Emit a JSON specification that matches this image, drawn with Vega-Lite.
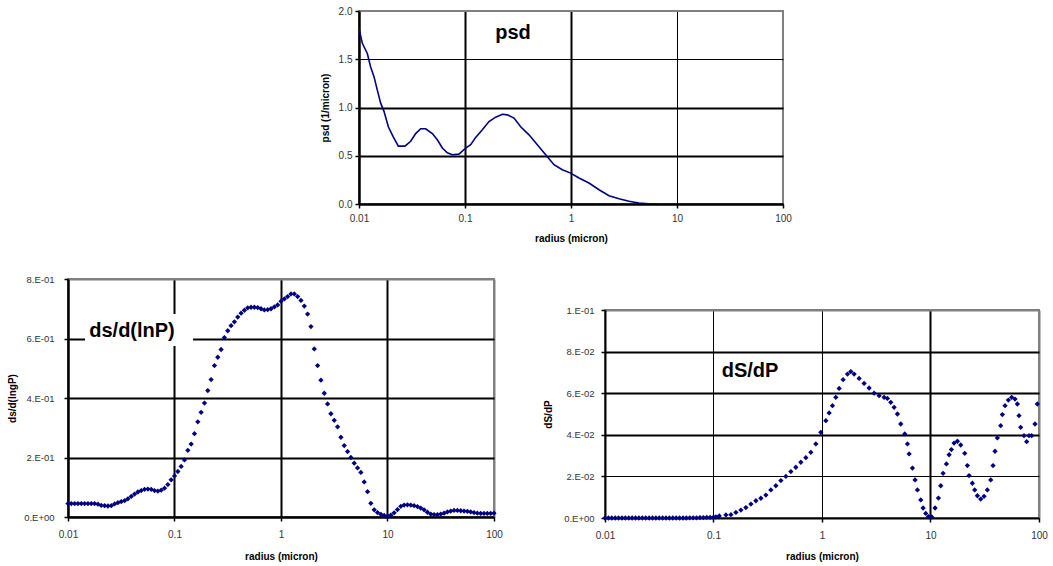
{
  "$schema": "https://vega.github.io/schema/vega-lite/v6.json",
  "padding": {"left": 6, "top": 5, "right": 3, "bottom": 2},
  "background": "white",
  "config": {
    "font": "Liberation Sans",
    "view": {"stroke": "#808080", "strokeWidth": 2},
    "axis": {
      "labelFont": "Liberation Sans", "labelFontSize": 10, "labelColor": "#333333",
      "titleFont": "Liberation Sans", "titleFontSize": 10, "titleFontWeight": "bold", "titleColor": "#000000",
      "domainColor": "#000000", "domainWidth": 2, "tickColor": "#000000", "tickWidth": 1.5, "tickSize": 4,
      "gridColor": "#000000", "gridOpacity": 1, "labelFlush": false, "labelOverlap": false
    }
  },
  "datasets": {
    "psd": [
      {"r":0.01,"v":1.82},{"r":0.01075,"v":1.665},{"r":0.01198,"v":1.56},{"r":0.01288,"v":1.42},{"r":0.01385,"v":1.32},{"r":0.01489,"v":1.18},{"r":0.01601,"v":1.045},{"r":0.01721,"v":0.96},{"r":0.01891,"v":0.8},{"r":0.02093,"v":0.7},{"r":0.0235,"v":0.6},{"r":0.02716,"v":0.6},{"r":0.03072,"v":0.65},{"r":0.03424,"v":0.73},{"r":0.03818,"v":0.78},{"r":0.04256,"v":0.78},{"r":0.04918,"v":0.73},{"r":0.05483,"v":0.665},{"r":0.06113,"v":0.58},{"r":0.0681,"v":0.53},{"r":0.07595,"v":0.51},{"r":0.08778,"v":0.517},{"r":0.1015,"v":0.58},{"r":0.1131,"v":0.614},{"r":0.1261,"v":0.69},{"r":0.1457,"v":0.77},{"r":0.1684,"v":0.855},{"r":0.1947,"v":0.9},{"r":0.225,"v":0.93},{"r":0.2508,"v":0.924},{"r":0.2899,"v":0.89},{"r":0.3351,"v":0.8},{"r":0.4016,"v":0.717},{"r":0.4813,"v":0.614},{"r":0.5768,"v":0.51},{"r":0.6912,"v":0.407},{"r":0.8284,"v":0.355},{"r":0.9928,"v":0.32},{"r":1.19,"v":0.27},{"r":1.478,"v":0.217},{"r":1.838,"v":0.148},{"r":2.283,"v":0.086},{"r":2.837,"v":0.055},{"r":3.526,"v":0.028},{"r":4.38,"v":0.01},{"r":5.442,"v":0.003},{"r":6.522,"v":0}
    ],
    "dlnp": [
      {"r":0.01,"v":0.045},{"r":0.010746,"v":0.045},{"r":0.011548,"v":0.045},{"r":0.012409,"v":0.045},{"r":0.013335,"v":0.045},{"r":0.01433,"v":0.045},{"r":0.015399,"v":0.045},{"r":0.016548,"v":0.045},{"r":0.017783,"v":0.045},{"r":0.01911,"v":0.043},{"r":0.020535,"v":0.039},{"r":0.022067,"v":0.038},{"r":0.023714,"v":0.037},{"r":0.025483,"v":0.038},{"r":0.027384,"v":0.044},{"r":0.029427,"v":0.048},{"r":0.031623,"v":0.052},{"r":0.033982,"v":0.055},{"r":0.036517,"v":0.061},{"r":0.039242,"v":0.069},{"r":0.04217,"v":0.077},{"r":0.045316,"v":0.084},{"r":0.048697,"v":0.089},{"r":0.05233,"v":0.093},{"r":0.056234,"v":0.094},{"r":0.06043,"v":0.093},{"r":0.064938,"v":0.089},{"r":0.069783,"v":0.087},{"r":0.074989,"v":0.09},{"r":0.080584,"v":0.097},{"r":0.086596,"v":0.109},{"r":0.093057,"v":0.125},
      {"r":0.1,"v":0.138},{"r":0.10746,"v":0.153},{"r":0.11548,"v":0.17},{"r":0.12409,"v":0.192},{"r":0.13335,"v":0.224},{"r":0.1433,"v":0.245},{"r":0.15399,"v":0.28},{"r":0.16548,"v":0.32},{"r":0.17783,"v":0.352},{"r":0.1911,"v":0.383},{"r":0.20535,"v":0.425},{"r":0.22067,"v":0.462},{"r":0.23714,"v":0.509},{"r":0.25483,"v":0.537},{"r":0.27384,"v":0.563},{"r":0.29427,"v":0.603},{"r":0.31623,"v":0.626},{"r":0.33982,"v":0.643},{"r":0.36517,"v":0.656},{"r":0.39242,"v":0.672},{"r":0.4217,"v":0.685},{"r":0.45316,"v":0.695},{"r":0.48697,"v":0.703},{"r":0.5233,"v":0.705},{"r":0.56234,"v":0.705},{"r":0.6043,"v":0.704},{"r":0.64938,"v":0.7},{"r":0.69783,"v":0.696},{"r":0.74989,"v":0.697},{"r":0.80584,"v":0.7},{"r":0.86596,"v":0.706},{"r":0.93057,"v":0.713},
      {"r":1,"v":0.725},{"r":1.0746,"v":0.733},{"r":1.1548,"v":0.741},{"r":1.2409,"v":0.75},{"r":1.3335,"v":0.75},{"r":1.433,"v":0.741},{"r":1.5399,"v":0.728},{"r":1.6548,"v":0.709},{"r":1.7783,"v":0.682},{"r":1.911,"v":0.64},{"r":2.0535,"v":0.565},{"r":2.2067,"v":0.509},{"r":2.3714,"v":0.46},{"r":2.5483,"v":0.416},{"r":2.7384,"v":0.38},{"r":2.9427,"v":0.347},{"r":3.1623,"v":0.325},{"r":3.3982,"v":0.303},{"r":3.6517,"v":0.268},{"r":3.9242,"v":0.24},{"r":4.217,"v":0.22},{"r":4.5316,"v":0.2},{"r":4.8697,"v":0.181},{"r":5.233,"v":0.165},{"r":5.6234,"v":0.15},{"r":6.043,"v":0.118},{"r":6.4938,"v":0.085},{"r":6.9783,"v":0.046},{"r":7.4989,"v":0.024},{"r":8.0584,"v":0.015},{"r":8.6596,"v":0.009},{"r":9.3057,"v":0.005},
      {"r":10,"v":0.003},{"r":10.746,"v":0.006},{"r":11.548,"v":0.014},{"r":12.409,"v":0.025},{"r":13.335,"v":0.036},{"r":14.33,"v":0.04},{"r":15.399,"v":0.041},{"r":16.548,"v":0.04},{"r":17.783,"v":0.038},{"r":19.11,"v":0.035},{"r":20.535,"v":0.03},{"r":22.067,"v":0.024},{"r":23.714,"v":0.016},{"r":25.483,"v":0.01},{"r":27.384,"v":0.008},{"r":29.427,"v":0.008},{"r":31.623,"v":0.01},{"r":33.982,"v":0.013},{"r":36.517,"v":0.017},{"r":39.242,"v":0.02},{"r":42.17,"v":0.022},{"r":45.316,"v":0.022},{"r":48.697,"v":0.021},{"r":52.33,"v":0.02},{"r":56.234,"v":0.019},{"r":60.43,"v":0.017},{"r":64.938,"v":0.015},{"r":69.783,"v":0.013},{"r":74.989,"v":0.012},{"r":80.584,"v":0.012},{"r":86.596,"v":0.012},{"r":93.057,"v":0.012},{"r":100,"v":0.013}
    ],
    "dsdp": [
      {"r":0.01,"v":0},{"r":0.010746,"v":0},{"r":0.011548,"v":0},{"r":0.012409,"v":0},{"r":0.013335,"v":0},{"r":0.01433,"v":0},{"r":0.015399,"v":0},{"r":0.016548,"v":0},{"r":0.017783,"v":0},{"r":0.01911,"v":0},{"r":0.020535,"v":0},{"r":0.022067,"v":0},{"r":0.023714,"v":0},{"r":0.025483,"v":0},{"r":0.027384,"v":0},{"r":0.029427,"v":0},{"r":0.031623,"v":0},{"r":0.033982,"v":0},{"r":0.036517,"v":0},{"r":0.039242,"v":0},{"r":0.04217,"v":0},{"r":0.045316,"v":0},{"r":0.048697,"v":0},{"r":0.05233,"v":0},{"r":0.056234,"v":0},{"r":0.06043,"v":0.0001},{"r":0.064938,"v":0.0001},{"r":0.069783,"v":0.0001},{"r":0.074989,"v":0.0002},{"r":0.080584,"v":0.0002},{"r":0.086596,"v":0.0003},{"r":0.093057,"v":0.0003},{"r":0.1,"v":0.0004},
      {"r":0.1052,"v":0.0005},{"r":0.113,"v":0.001},{"r":0.1301,"v":0.0015},{"r":0.1447,"v":0.0016},{"r":0.1609,"v":0.0027},{"r":0.1789,"v":0.0038},{"r":0.1989,"v":0.005},{"r":0.2211,"v":0.0067},{"r":0.2458,"v":0.0083},{"r":0.2733,"v":0.0095},{"r":0.3039,"v":0.011},{"r":0.3379,"v":0.0135},{"r":0.3757,"v":0.0155},{"r":0.4177,"v":0.018},{"r":0.4644,"v":0.02},{"r":0.5164,"v":0.0223},{"r":0.5741,"v":0.0244},{"r":0.6384,"v":0.0268},{"r":0.7097,"v":0.029},{"r":0.7891,"v":0.0316},{"r":0.8774,"v":0.0356},{"r":0.9756,"v":0.0412},{"r":1.085,"v":0.0468},{"r":1.164,"v":0.0505},{"r":1.249,"v":0.054},{"r":1.341,"v":0.058},{"r":1.439,"v":0.0623},{"r":1.566,"v":0.0665},{"r":1.717,"v":0.0692},{"r":1.843,"v":0.0704},{"r":1.978,"v":0.0692},{"r":2.199,"v":0.0671},{"r":2.445,"v":0.0647},{"r":2.719,"v":0.0625},{"r":3.023,"v":0.06},{"r":3.362,"v":0.0588},{"r":3.737,"v":0.058},{"r":4.011,"v":0.0575},{"r":4.305,"v":0.0556},{"r":4.62,"v":0.0532},{"r":4.958,"v":0.05},{"r":5.321,"v":0.0452},{"r":5.794,"v":0.0404},{"r":6.131,"v":0.0356},{"r":6.352,"v":0.0308},{"r":6.817,"v":0.024},{"r":7.211,"v":0.0183},{"r":7.578,"v":0.0135},{"r":8.133,"v":0.0087},{"r":8.545,"v":0.0048},{"r":9.041,"v":0.0022},{"r":9.568,"v":0.0006},{"r":10.27,"v":0.0005},{"r":11.02,"v":0.0048},{"r":11.83,"v":0.0096},{"r":12.43,"v":0.0155},{"r":13.06,"v":0.0215},{"r":14.02,"v":0.026},{"r":14.84,"v":0.0304},{"r":15.58,"v":0.0329},{"r":16.49,"v":0.036},{"r":17.7,"v":0.0369},{"r":18.99,"v":0.0351},{"r":20.68,"v":0.0311},{"r":21.88,"v":0.0252},{"r":22.67,"v":0.0204},{"r":24.32,"v":0.0167},{"r":25.56,"v":0.0135},{"r":27.05,"v":0.0107},{"r":29.03,"v":0.0091},{"r":31.15,"v":0.0104},{"r":33.43,"v":0.0135},{"r":35.88,"v":0.0183},{"r":37.7,"v":0.0252},{"r":39.34,"v":0.0321},{"r":41.33,"v":0.0385},{"r":44.36,"v":0.0444},{"r":45.96,"v":0.0497},{"r":48.63,"v":0.054},{"r":52.2,"v":0.0567},{"r":56.02,"v":0.058},{"r":60.12,"v":0.0572},{"r":63.17,"v":0.0548},{"r":65.44,"v":0.0492},{"r":67.8,"v":0.0436},{"r":72.77,"v":0.0396},{"r":76.99,"v":0.0367},{"r":80.9,"v":0.0396},{"r":85.63,"v":0.0396},{"r":91.89,"v":0.0452},{"r":96.54,"v":0.0548}
    ]
  },
  "spacing": 29,
  "vconcat": [
    {
      "spacing": 0,
      "hconcat": [
        {"width": 251, "height": 193, "view": {"stroke": null}, "data": {"values": [{}]}, "mark": {"type": "point", "opacity": 0}, "encoding": {}},
        {
          "width": 424, "height": 193,
          "layer": [
            {
              "data": {"name": "psd"},
              "mark": {"type": "line", "color": "#000080", "strokeWidth": 1.6, "clip": true},
              "encoding": {
                "x": {"field": "r", "type": "quantitative", "scale": {"type": "log", "domain": [0.01, 100], "nice": false},
                  "axis": {"title": "radius (micron)", "values": [0.01, 0.1, 1, 10, 100], "format": "~g", "labelPadding": 5, "titlePadding": 10,
                    "gridColor": {"condition": {"test": "datum.value > 50", "value": "#808080"}, "value": "#000000"},
                    "gridWidth": {"condition": {"test": "datum.value > 5", "value": 1}, "value": 2}}},
                "y": {"field": "v", "type": "quantitative", "scale": {"domain": [0, 2], "nice": false},
                  "axis": {"title": "psd (1/micron)", "values": [0, 0.5, 1, 1.5, 2], "format": ".1f", "labelPadding": 3, "titlePadding": 8,
                    "gridColor": {"condition": {"test": "datum.value > 1.9", "value": "#808080"}, "value": "#000000"},
                    "gridWidth": {"condition": {"test": "datum.value > 1.2", "value": 1}, "value": 2}}}
              }
            },
            {
              "data": {"values": [{"r": 0.284, "v": 1.77, "t": "psd"}]},
              "mark": {"type": "text", "font": "Liberation Sans", "fontSize": 20, "fontWeight": "bold", "color": "#000000", "baseline": "middle", "align": "center"},
              "encoding": {"x": {"field": "r", "type": "quantitative"}, "y": {"field": "v", "type": "quantitative"}, "text": {"field": "t"}}
            }
          ]
        }
      ]
    },
    {
      "spacing": 38,
      "hconcat": [
        {
          "width": 426, "height": 238,
          "layer": [
            {
              "data": {"values": [{"r": 0.01445, "r2": 0.1493, "v": 0.682, "v2": 0.575}]},
              "mark": {"type": "rect", "color": "#ffffff"},
              "encoding": {
                "x": {"field": "r", "type": "quantitative", "scale": {"type": "log", "domain": [0.01, 100], "nice": false},
                  "axis": {"title": "radius  (micron)", "values": [0.01, 0.1, 1, 10, 100], "format": "~g", "labelPadding": 8, "titlePadding": 12,
                    "gridColor": {"condition": {"test": "datum.value > 50", "value": "#808080"}, "value": "#000000"}, "gridWidth": 2}},
                "x2": {"field": "r2"},
                "y": {"field": "v", "type": "quantitative", "scale": {"domain": [0, 0.8], "nice": false},
                  "axis": {"title": "ds/d(lngP)", "values": [0, 0.2, 0.4, 0.6, 0.8], "labelExpr": "datum.value == 0 ? '0.E+00' : format(datum.value*10, '.0f') + '.E-01'", "labelFontSize": 9.5, "labelPadding": 10, "titlePadding": 6,
                    "gridColor": {"condition": {"test": "datum.value > 0.75", "value": "#808080"}, "value": "#000000"}, "gridWidth": 2}},
                "y2": {"field": "v2"}
              }
            },
            {
              "data": {"name": "dlnp"},
              "mark": {"type": "point", "shape": "diamond", "filled": true, "size": 28, "color": "#000080", "opacity": 1},
              "encoding": {"x": {"field": "r", "type": "quantitative"}, "y": {"field": "v", "type": "quantitative"}}
            },
            {
              "data": {"values": [{"r": 0.0399, "v": 0.625, "t": "ds/d(lnP)"}]},
              "mark": {"type": "text", "font": "Liberation Sans", "fontSize": 20, "fontWeight": "bold", "color": "#000000", "baseline": "middle", "align": "center"},
              "encoding": {"x": {"field": "r", "type": "quantitative"}, "y": {"field": "v", "type": "quantitative"}, "text": {"field": "t"}}
            }
          ]
        },
        {
          "spacing": 0,
          "vconcat": [
            {"width": 10, "height": 25, "view": {"stroke": null}, "data": {"values": [{}]}, "mark": {"type": "point", "opacity": 0}, "encoding": {}},
            {
              "width": 434, "height": 208,
              "layer": [
                {
                  "data": {"name": "dsdp"},
                  "mark": {"type": "point", "shape": "diamond", "filled": true, "size": 28, "color": "#000080", "opacity": 1},
                  "encoding": {
                    "x": {"field": "r", "type": "quantitative", "scale": {"type": "log", "domain": [0.01, 100], "nice": false},
                      "axis": {"title": "radius (micron)", "values": [0.01, 0.1, 1, 10, 100], "format": "~g", "labelPadding": 8, "titlePadding": 11,
                        "gridColor": {"condition": {"test": "datum.value > 50", "value": "#808080"}, "value": "#000000"},
                        "gridWidth": {"condition": {"test": "datum.value > 5", "value": 2}, "value": 1}}},
                    "y": {"field": "v", "type": "quantitative", "scale": {"domain": [0, 0.1], "nice": false},
                      "axis": {"title": "dS/dP", "values": [0, 0.02, 0.04, 0.06, 0.08, 0.1], "labelExpr": "datum.value == 0 ? '0.E+00' : datum.value > 0.099 ? '1.E-01' : format(datum.value*100, '.0f') + '.E-02'", "labelFontSize": 9.5, "labelPadding": 7, "titlePadding": 10,
                        "gridColor": {"condition": {"test": "datum.value > 0.095", "value": "#808080"}, "value": "#000000"},
                        "gridWidth": {"condition": {"test": "datum.value < 0.03", "value": 1}, "value": 2}}}
                  }
                },
                {
                  "data": {"values": [{"r": 0.217, "v": 0.0707, "t": "dS/dP"}]},
                  "mark": {"type": "text", "font": "Liberation Sans", "fontSize": 20, "fontWeight": "bold", "color": "#000000", "baseline": "middle", "align": "center"},
                  "encoding": {"x": {"field": "r", "type": "quantitative"}, "y": {"field": "v", "type": "quantitative"}, "text": {"field": "t"}}
                }
              ]
            }
          ]
        }
      ]
    }
  ]
}
